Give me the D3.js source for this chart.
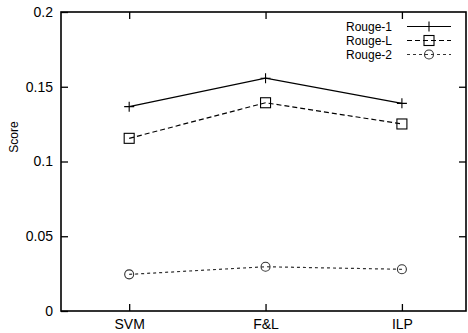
<!DOCTYPE html>
<html>
<head>
<meta charset="utf-8">
<script src="https://cdn.jsdelivr.net/npm/d3@7"></script>
<style>
  body { margin: 0; background: #fff; }
  text { font-family: "Liberation Sans", Arial, sans-serif; fill: #000; }
</style>
</head>
<body>
<div id="chart"></div>
<script>
var width  = 468;
var height = 333;

// Data
var systems  = ["SVM", "F&L", "ILP"];
var rouge1   = [0.1367, 0.1557, 0.1389];
var rougeL   = [0.1155, 0.1393, 0.1251];
var rouge2   = [0.0245, 0.0296, 0.0279];
var yTicks   = [0, 0.05, 0.1, 0.15, 0.2];
var yLabels  = ["0", "0.05", "0.1", "0.15", "0.2"];

var series = [
  { name: "Rouge-1", values: rouge1, dash: null,  marker: "plus",   stroke: "#000" },
  { name: "Rouge-L", values: rougeL, dash: "5,3", marker: "square", stroke: "#000" },
  { name: "Rouge-2", values: rouge2, dash: "3,3", marker: "circle", stroke: "#333" }
];

var m = { left: 61, right: 2, top: 12, bottom: 22 };

var x = d3.scaleLinear()
          .domain([0.5, 3.47])
          .range([m.left, width - m.right]);

var y = d3.scaleLinear()
          .domain([0, 0.2])
          .range([height - m.bottom, m.top]);

var svg = d3.select('#chart')
            .append('svg')
            .attr('width', width)
            .attr('height', height);

var tickLen = 7;
var x0 = x.range()[0], x1 = x.range()[1];
var y0 = y.range()[0], y1 = y.range()[1];

function styleAxis(g) {
  g.select('.domain').remove();
  g.selectAll('line').attr('stroke', '#000').attr('stroke-width', 1.3);
  g.selectAll('text').style('font-size', '14px')
   .style('font-family', '"Liberation Sans", Arial, sans-serif');
}

// Left axis with labels
svg.append('g')
   .attr('transform', 'translate(' + x0 + ',0)')
   .call(d3.axisLeft(y).tickValues(yTicks)
           .tickFormat(function(d, i) { return yLabels[i]; })
           .tickSizeInner(-tickLen).tickSizeOuter(0).tickPadding(8))
   .call(styleAxis);

// Right axis (mirror ticks, no labels)
svg.append('g')
   .attr('transform', 'translate(' + x1 + ',0)')
   .call(d3.axisRight(y).tickValues(yTicks.slice(1, -1))
           .tickFormat('').tickSizeInner(-tickLen).tickSizeOuter(0))
   .call(styleAxis);

// Bottom axis with labels
svg.append('g')
   .attr('transform', 'translate(0,' + y0 + ')')
   .call(d3.axisBottom(x).tickValues([1, 2, 3])
           .tickFormat(function(d) { return systems[d - 1]; })
           .tickSizeInner(-tickLen).tickSizeOuter(0).tickPadding(8))
   .call(styleAxis);

// Top axis (mirror ticks)
svg.append('g')
   .attr('transform', 'translate(0,' + y1 + ')')
   .call(d3.axisTop(x).tickValues([1, 2, 3])
           .tickFormat('').tickSizeInner(-tickLen).tickSizeOuter(0))
   .call(styleAxis);

// Frame
svg.append('rect')
   .attr('x', x0).attr('y', y1)
   .attr('width', x1 - x0).attr('height', y0 - y1)
   .attr('fill', 'none')
   .attr('stroke', '#000')
   .attr('stroke-width', 1.6);

// Y label
svg.append('text')
   .attr('transform', 'translate(14,137)rotate(-90)')
   .attr('text-anchor', 'middle')
   .attr('dy', '0.35em')
   .style('font-size', '12px')
   .text('Score');

// Draws a marker of the given type centred at (cx, cy)
function drawMarker(g, type, cx, cy, color) {
  if (type == "plus") {
    g.append('path')
     .attr('d', 'M' + (cx - 5) + ',' + cy + 'H' + (cx + 5) +
                'M' + cx + ',' + (cy - 5) + 'V' + (cy + 5))
     .attr('stroke', color).attr('stroke-width', 1.1).attr('fill', 'none');
  } else if (type == "square") {
    g.append('rect')
     .attr('x', cx - 5).attr('y', cy - 5)
     .attr('width', 10).attr('height', 10)
     .attr('stroke', color).attr('stroke-width', 1.1).attr('fill', 'none');
  } else {
    g.append('circle')
     .attr('cx', cx).attr('cy', cy).attr('r', 4.5)
     .attr('stroke', color).attr('stroke-width', 1.1).attr('fill', 'none');
  }
}

var line = d3.line()
             .x(function(d, i) { return x(i + 1); })
             .y(function(d) { return y(d); });

series.forEach(function(s) {
  var g = svg.append('g');
  g.append('path')
   .attr('d', line(s.values))
   .attr('fill', 'none')
   .attr('stroke', s.stroke)
   .attr('stroke-width', 1.2)
   .attr('stroke-dasharray', s.dash);
  s.values.forEach(function(v, i) {
    drawMarker(g, s.marker, x(i + 1), y(v), s.stroke);
  });
});

// Legend
var legend = svg.append('g');
series.forEach(function(s, i) {
  var ly = 26.5 + i * 14;
  legend.append('text')
        .attr('x', 392).attr('y', ly)
        .attr('dy', '0.35em')
        .attr('text-anchor', 'end')
        .style('font-size', '12px')
        .text(s.name);
  legend.append('line')
        .attr('x1', 407).attr('x2', 451)
        .attr('y1', ly).attr('y2', ly)
        .attr('stroke', s.stroke)
        .attr('stroke-width', 1.2)
        .attr('stroke-dasharray', s.dash);
  drawMarker(legend, s.marker, 429, ly, s.stroke);
});
</script>
</body>
</html>
